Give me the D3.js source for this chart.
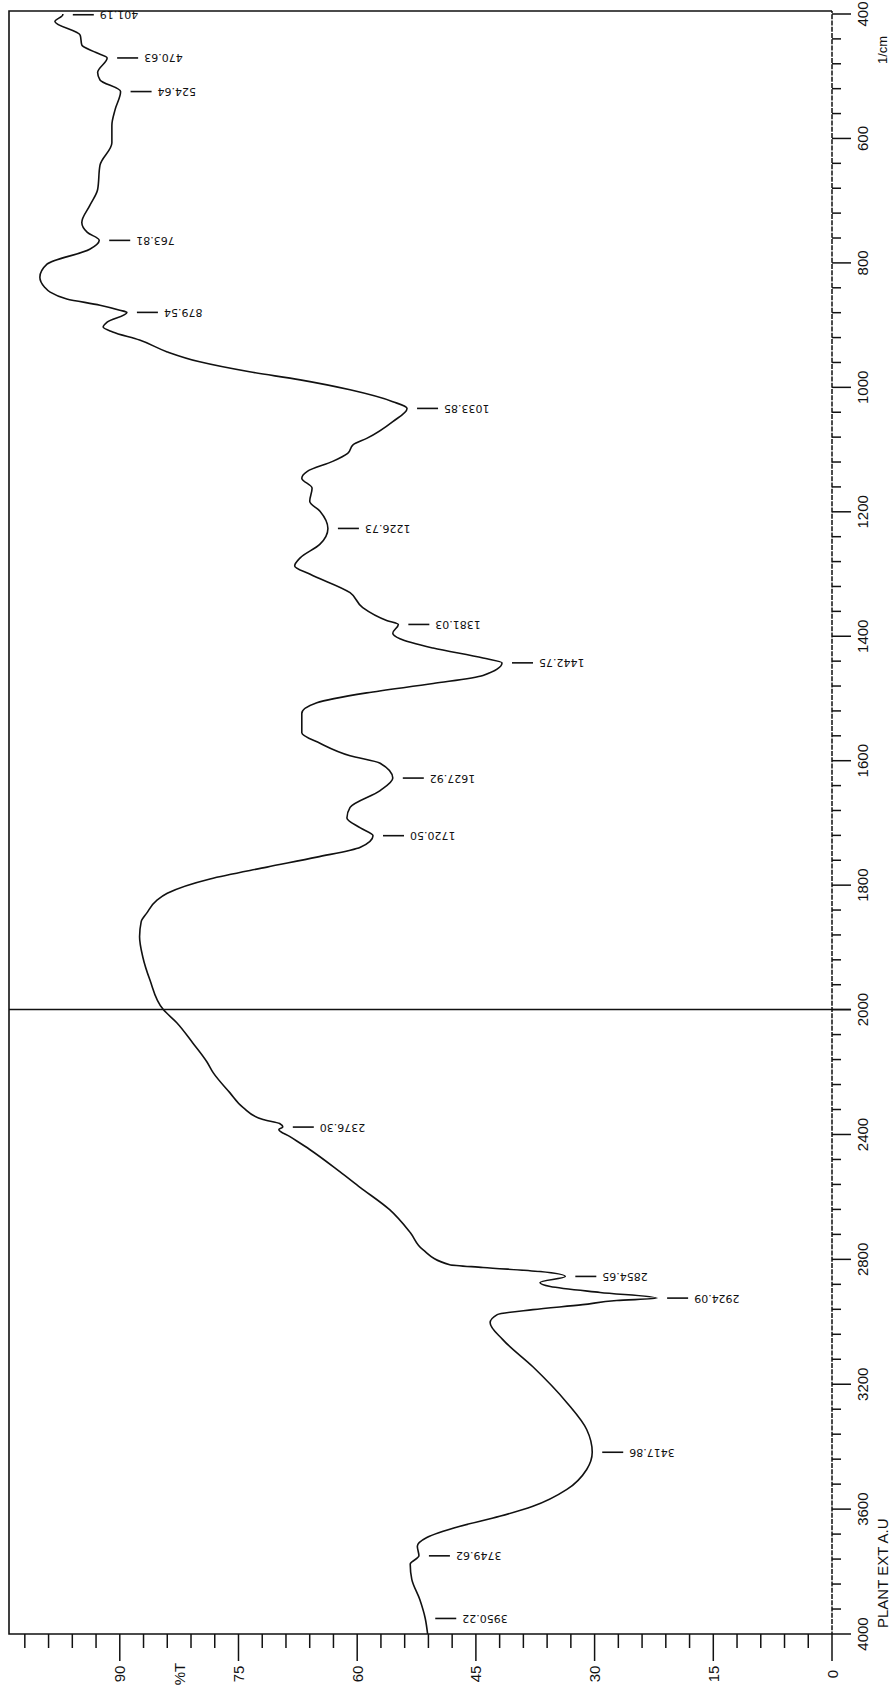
<!DOCTYPE html>
<html><head><meta charset="utf-8">
<script src="https://cdn.jsdelivr.net/npm/d3@7"></script>
<style>html,body{margin:0;padding:0;background:#fff;} svg{display:block;}</style>
</head><body>
<svg id="c" width="893" height="1692"></svg>
<script>
// ---- data ----
const wavenumbers = [400,401.19,412,434,450,462,470.63,494,506,524.64,554,579,607,643,682,708,735,751,763.81,778,802,823,839,847,858,868,876,879.54,895,903,911,924,943,959,975,988,1004,1023,1033.85,1055,1082,1092,1106,1119,1135,1146,1162,1183,1199,1226.73,1252,1274,1287,1300,1330,1354,1375,1381.03,1395,1404,1419,1435,1442.75,1463,1476,1491,1507,1524,1555,1572,1592,1604,1627.92,1648,1675,1692,1708,1720.50,1739,1755,1771,1790,1813,1824,1845,1859,1883,1915,1952,2000,2042,2106,2167,2202,2266,2314,2352,2365,2376.30,2384,2407,2448,2519,2570,2641,2714,2769,2817,2826,2839,2854.65,2874,2887,2906,2924.09,2932,2945,2961,2977,3003,3057,3144,3259,3345,3417.86,3473,3537,3591,3623,3655,3691,3719,3749.62,3776,3825,3889,3950.22,4000];
const transmittance = [97.2,97.2,98.2,95.0,94.8,93.0,91.6,92.8,92.5,89.9,90.6,91.0,91.0,92.5,92.8,93.8,94.8,94.1,92.6,93.8,99.2,100.1,99.5,98.8,96.7,92.5,90.0,89.1,91.6,92.1,90.9,87.5,84.0,79.9,73.6,67.2,60.9,55.5,53.7,55.5,58.8,60.5,61.2,63.1,66.3,67.0,65.7,66.0,64.7,63.7,64.7,67.2,67.9,66.0,60.9,59.3,56.2,54.8,55.5,54.6,50.4,44.1,41.7,44.1,50.4,58.8,65.1,67.0,67.0,64.7,60.9,57.1,55.5,57.1,60.9,61.3,59.6,58.0,59.6,65.1,71.4,78.6,84.0,85.3,86.6,87.3,87.5,87.1,86.2,84.5,82.8,80.8,79.0,78.2,76.1,74.4,71.9,69.8,69.4,69.9,68.5,66.0,62.2,59.6,55.9,53.3,51.7,48.3,44.1,36.9,33.7,36.9,35.6,29.3,22.1,27.2,31.5,37.8,42.3,43.2,41.6,37.8,33.5,31.0,30.3,31.0,33.5,37.8,42.0,47.0,51.2,52.4,52.2,53.3,53.1,52.1,51.4,51.1];
const peakWavenumbers = [401.19,470.63,524.64,763.81,879.54,1033.85,1226.73,1381.03,1442.75,1627.92,1720.50,2376.30,2854.65,2924.09,3417.86,3749.62,3950.22];
const peakLabels = ["401.19","470.63","524.64","763.81","879.54","1033.85","1226.73","1381.03","1442.75","1627.92","1720.50","2376.30","2854.65","2924.09","3417.86","3749.62","3950.22"];
const tMajorTicks = [0,15,30,45,60,75,90];
const tMajorLabels = ["0","15","30","45","60","75","90"];
const wnMajorTicks = [400,600,800,1000,1200,1400,1600,1800,2000,2400,2800,3200,3600,4000];
const wnMajorLabels = ["400","600","800","1000","1200","1400","1600","1800","2000","2400","2800","3200","3600","4000"];
const yTitle = "%T", yTitleAt = 82.5;
const xUnit = "1/cm";
const sampleName = "PLANT EXT A.U";

// ---- layout (drawn in spectrum orientation, then turned 90° counter-clockwise) ----
const W = 1623, H = 823;
const x = d3.scaleLinear().domain([4000, 2000, 400]).range([0, 624.4, W - 3]);
const y = d3.scaleLinear().domain([0, 104]).range([H, 0]);
const ink = "#111";
const svg = d3.select("#c");
const g = svg.append("g").attr("transform", "translate(9,1634) rotate(-90)");

// frame (solid sides)
g.append("path").attr("d", `M0,${H} V0 H${W} V${H}`)
  .attr("fill", "none").attr("stroke", ink).attr("stroke-width", 1.6);

// %T ticks on the left side (bottom after turning)
const tMinor = d3.range(0, 103, 3);
g.selectAll("line.tt").data(tMinor).join("line").attr("class", "tt")
  .attr("x1", 0).attr("x2", d => (d % 15 === 0 ? -27 : -14))
  .attr("y1", d => y(d)).attr("y2", d => y(d))
  .attr("stroke", ink).attr("stroke-width", 1.5);
g.selectAll("text.tl").data(tMajorTicks).join("text").attr("class", "tl")
  .attr("x", -40).attr("y", d => y(d))
  .attr("text-anchor", "middle").attr("dominant-baseline", "central")
  .attr("font-family", "Liberation Sans, Arial, sans-serif").attr("font-size", 15).attr("fill", ink)
  .text((d, i) => tMajorLabels[i]);
g.append("text").attr("x", -40).attr("y", y(yTitleAt))
  .attr("text-anchor", "middle").attr("dominant-baseline", "central")
  .attr("font-family", "Liberation Sans, Arial, sans-serif").attr("font-size", 15).attr("fill", ink)
  .text(yTitle);

// wavenumber axis: dashed line with ticks
const step = Math.abs(x(2040) - x(2000));
const period = step / 2, dash = 5;
g.append("line").attr("x1", 0).attr("x2", W).attr("y1", H).attr("y2", H)
  .attr("stroke", ink).attr("stroke-width", 1.5)
  .attr("stroke-dasharray", `${dash},${period - dash}`).attr("stroke-dashoffset", dash / 2);
const wnMinor = d3.range(400, 2000, 40).concat(d3.range(2000, 4001, 80));
const isMajor = v => wnMajorTicks.includes(v);
g.selectAll("line.wt").data(wnMinor).join("line").attr("class", "wt")
  .attr("x1", d => x(d)).attr("x2", d => x(d))
  .attr("y1", H).attr("y2", d => H + (isMajor(d) ? 19 : 9))
  .attr("stroke", ink).attr("stroke-width", 1.5);
g.selectAll("text.wl").data(wnMajorTicks).join("text").attr("class", "wl")
  .attr("x", d => x(d)).attr("y", H + 30)
  .attr("text-anchor", "middle").attr("dominant-baseline", "central")
  .attr("font-family", "Liberation Sans, Arial, sans-serif").attr("font-size", 15).attr("fill", ink)
  .text((d, i) => wnMajorLabels[i]);
g.append("text").attr("x", x(400) - 36).attr("y", H + 50)
  .attr("text-anchor", "middle").attr("dominant-baseline", "central")
  .attr("font-family", "Liberation Sans, Arial, sans-serif").attr("font-size", 13).attr("fill", ink)
  .text(xUnit);
g.append("text").attr("x", 6).attr("y", H + 50)
  .attr("text-anchor", "start").attr("dominant-baseline", "central")
  .attr("font-family", "Liberation Sans, Arial, sans-serif").attr("font-size", 15).attr("fill", ink)
  .text(sampleName);

// 2000 divider line
g.append("line").attr("x1", x(2000)).attr("x2", x(2000)).attr("y1", 0).attr("y2", H + 19)
  .attr("stroke", ink).attr("stroke-width", 1.5);

// spectrum
const data = wavenumbers.map((w, i) => ({ w, t: transmittance[i] })).sort((a, b) => b.w - a.w);
g.append("path").datum(data)
  .attr("d", d3.line().x(d => x(d.w)).y(d => y(d.t)).curve(d3.curveMonotoneX))
  .attr("fill", "none").attr("stroke", ink).attr("stroke-width", 1.6).attr("stroke-linejoin", "round");

// peak markers
const peaks = peakWavenumbers.map((w, i) => ({ w, t: transmittance[wavenumbers.indexOf(w)], label: peakLabels[i] }));
const pg = g.selectAll("g.pk").data(peaks).join("g").attr("class", "pk");
pg.append("line")
  .attr("x1", d => x(d.w)).attr("x2", d => x(d.w))
  .attr("y1", d => y(d.t) + 10).attr("y2", d => y(d.t) + 31)
  .attr("stroke", ink).attr("stroke-width", 1.6);
pg.append("text")
  .attr("x", d => x(d.w)).attr("y", d => y(d.t) + 37)
  .attr("transform", d => `rotate(-90,${x(d.w)},${y(d.t) + 37})`)
  .attr("text-anchor", "end").attr("dominant-baseline", "central")
  .attr("font-family", "DejaVu Sans, sans-serif").attr("font-size", 11).attr("fill", ink)
  .text(d => d.label);
</script>
</body></html>
